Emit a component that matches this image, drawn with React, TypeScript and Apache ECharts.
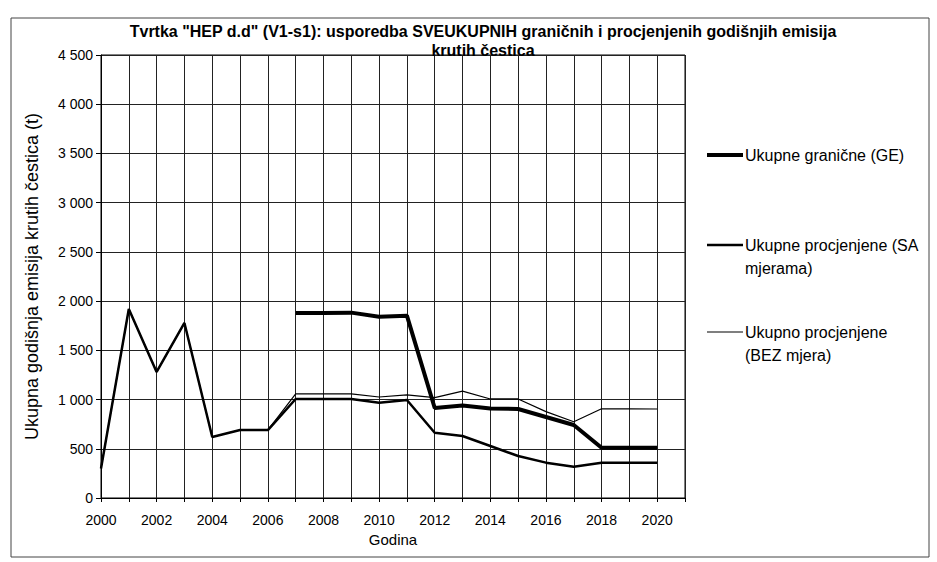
import React, { useEffect, useRef } from "react";
import * as echarts from "echarts";

const years = [2000, 2001, 2002, 2003, 2004, 2005, 2006, 2007, 2008, 2009, 2010, 2011, 2012, 2013, 2014, 2015, 2016, 2017, 2018, 2019, 2020];
const graniceGE = [null, null, null, null, null, null, null, 1880, 1880, 1883, 1842, 1852, 914, 940, 909, 904, 823, 742, 510, 510, 510];
const saMjerama = [300, 1920, 1280, 1778, 620, 691, 690, 1006, 1006, 1006, 968, 996, 663, 630, 528, 427, 359, 318, 358, 358, 358];
const bezMjera = [300, 1920, 1280, 1778, 620, 691, 690, 1057, 1057, 1057, 1026, 1047, 1020, 1085, 1006, 1006, 877, 775, 906, 906, 904];
const seriesNames = ["Ukupne granične (GE)", "Ukupne procjenjene (SA\nmjerama)", "Ukupno procjenjene\n(BEZ mjera)"];
const seriesWidths = [4, 2.5, 1.2];
const titleText = "Tvrtka \"HEP d.d\" (V1-s1): usporedba SVEUKUPNIH graničnih i procjenjenih godišnjih emisija\nkrutih čestica";
const yAxisName = "Ukupna godišnja emisija krutih čestica (t)";
const xAxisName = "Godina";

const FONT = "'Liberation Sans', Arial, sans-serif";

function fmtThousands(v: number): string {
  if (v >= 1000) {
    return `${Math.floor(v / 1000)} ${String(v % 1000).padStart(3, "0")}`;
  }
  return String(v);
}

export default function App() {
  const ref = useRef<HTMLDivElement>(null);
  useEffect(() => {
    document.body.style.margin = "0";
    if (!ref.current) return;
    const chart = echarts.init(ref.current, undefined, { renderer: "svg" });
    const allData = [graniceGE, saMjerama, bezMjera];
    const legendY = [155, 245, 332];
    const legendGraphics: any[] = [];
    seriesNames.forEach((name, i) => {
      legendGraphics.push({
        type: "line",
        shape: { x1: 707, y1: legendY[i], x2: 743, y2: legendY[i] },
        style: { stroke: "#000", lineWidth: seriesWidths[i] },
      });
      legendGraphics.push({
        type: "text",
        x: 745,
        y: legendY[i] - 11.5,
        style: {
          text: name,
          font: `16px ${FONT}`,
          fill: "#000",
          lineHeight: 23,
          verticalAlign: "top",
        },
      });
    });
    chart.setOption({
      animation: false,
      backgroundColor: "#fff",
      title: {
        text: titleText,
        left: 478,
        textAlign: "center",
        top: 17,
        textStyle: { fontFamily: FONT, fontSize: 16, fontWeight: "bold", color: "#000", lineHeight: 19 },
      },
      grid: { left: 101, right: 252, top: 55, bottom: 64, show: true, borderColor: "#000", borderWidth: 1, backgroundColor: "transparent" },
      xAxis: {
        type: "value",
        min: 2000,
        max: 2021,
        interval: 1,
        name: xAxisName,
        nameLocation: "middle",
        nameGap: 33,
        nameTextStyle: { fontFamily: FONT, fontSize: 15, color: "#000" },
        axisLine: { show: true, lineStyle: { color: "#000" } },
        axisTick: { show: true, length: 4, lineStyle: { color: "#000" } },
        axisLabel: {
          fontFamily: FONT,
          fontSize: 14,
          color: "#000",
          margin: 15,
          formatter: (v: number) => (v % 2 === 0 && v <= 2020 ? String(v) : ""),
        },
        splitLine: { show: true, lineStyle: { color: "#222", width: 1 } },
      },
      yAxis: {
        type: "value",
        min: 0,
        max: 4500,
        interval: 500,
        name: yAxisName,
        nameLocation: "middle",
        nameGap: 60,
        nameRotate: 90,
        nameTextStyle: { fontFamily: FONT, fontSize: 18, color: "#000" },
        axisLine: { show: true, lineStyle: { color: "#000" } },
        axisTick: { show: true, length: 5, lineStyle: { color: "#000" } },
        axisLabel: { fontFamily: FONT, fontSize: 14, color: "#000", margin: 8, formatter: (v: number) => fmtThousands(v) },
        splitLine: { show: true, lineStyle: { color: "#222", width: 1 } },
      },
      series: seriesNames.map((name, i) => ({
        name,
        type: "line",
        data: years.map((y, k) => [y, allData[i][k]]),
        showSymbol: false,
        symbol: "none",
        connectNulls: false,
        lineStyle: { color: "#000", width: seriesWidths[i] },
        z: 10 - i,
      })),
      graphic: [
        {
          type: "rect",
          shape: { x: 11, y: 18, width: 918, height: 539 },
          style: { fill: "none", stroke: "#444", lineWidth: 1 },
          silent: true,
        },
        ...legendGraphics,
      ],
    });
    return () => chart.dispose();
  }, []);
  return <div ref={ref} style={{ width: 937, height: 562 }} />;
}
